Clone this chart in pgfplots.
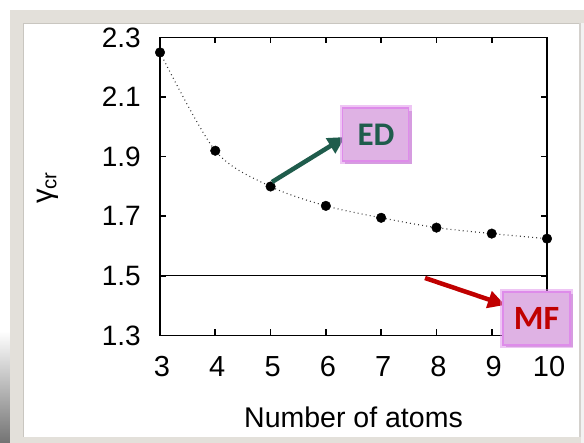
\documentclass[border=0pt]{standalone}
\usepackage{pgfplots}
\pgfplotsset{compat=1.18}
\usepackage{graphicx}
\usepackage{fontspec}
\setmainfont{Liberation Sans}
\newfontfamily\calibri{Carlito}
\usetikzlibrary{arrows.meta}
\definecolor{framegray}{HTML}{E3E0DA}
\definecolor{bevel}{HTML}{C9C6C0}
\definecolor{boxfill}{HTML}{DFB2E4}
\definecolor{boxglow}{HTML}{DE8CEA}
\definecolor{boxshadow}{HTML}{A86AB6}
\definecolor{edgreen}{HTML}{1F5C4C}
\definecolor{mfred}{HTML}{C00000}
\begin{document}
\begin{tikzpicture}[x=1bp,y=1bp]
% frame / background
\path[use as bounding box, fill=white] (0,0) rectangle (584,443);
\shade[top color=white, bottom color=black!55] (0,0) rectangle (12,112);
\fill[framegray] (10,0) rectangle (584,433);
\fill[white] (23,6) rectangle (580,420);
\fill[black!5] (581,0) rectangle (584,420);
\draw[bevel, line width=1.2] (23.5,6) -- (23.5,419.5) -- (580,419.5);
\draw[bevel!80, line width=1.2] (580,6) -- (580,420);
\begin{axis}[
  at={(160bp,107.5bp)}, anchor=south west,
  scale only axis, width=387bp, height=298bp,
  xmin=3, xmax=10, ymin=1.3, ymax=2.3,
  xtick={3,4,5,6,7,8,9,10},
  ytick={1.3,1.5,1.7,1.9,2.1,2.3},
  tick pos=both, tick align=inside,
  major tick length=6bp,
  axis line style={line width=1.8bp},
  every tick/.style={line width=1.6bp, black},
  /pgf/number format/assume math mode=true,
  yticklabel style={font=\fontsize{28bp}{30bp}\selectfont, inner sep=0pt, xshift=-19bp,
    /pgf/number format/.cd, fixed, fixed zerofill, precision=1},
  xticklabel style={font=\fontsize{29bp}{30bp}\selectfont, inner sep=0pt, yshift=-21bp, xshift=2bp},
  xlabel={Number of atoms},
  xlabel style={font=\fontsize{28.5bp}{30bp}\selectfont, inner sep=0pt,
    at={(axis description cs:0.5,0)}, anchor=base, yshift=-92.5bp},
  clip=false,
]
\addplot[black, line width=1.2bp] coordinates {(3,1.5) (10,1.5)};
\addplot[black!80, line width=1.1bp, dash pattern=on 0.9bp off 3.2bp, smooth, tension=0.5]
  coordinates {(3,2.25) (4,1.92) (5,1.80) (6,1.735) (7,1.695) (8,1.662) (9,1.642) (10,1.625)};
\addplot[only marks, mark=*, mark size=4.8bp, mark options={fill=black, draw=black}]
  coordinates {(3,2.25) (4,1.92) (5,1.80) (6,1.735) (7,1.695) (8,1.662) (9,1.642) (10,1.625)};
\end{axis}
% y label
\node[inner sep=0pt, font=\fontsize{29bp}{30bp}\selectfont] at (48,255) {\rotatebox{90}{γ\textsubscript{cr}}};
% annotations
\draw[edgreen, line width=4.5bp, -{Triangle[length=17bp,width=17bp]}] (272,261) -- (345,306);
\draw[mfred, line width=4.5bp, -{Triangle[length=17bp,width=17bp]}] (425,165) -- (505,138);
% ED box
\fill[boxshadow, opacity=0.55] (345,279) rectangle (412,332);
\draw[boxglow, opacity=0.5, line width=6bp] (342.5,282) rectangle (408.5,335);
\fill[boxfill] (342.5,282) rectangle (408.5,335);
\draw[boxglow, line width=1.4bp] (342.5,282) rectangle (408.5,335);
\node[text=edgreen, font=\calibri\bfseries\fontsize{33bp}{36bp}\selectfont, inner sep=0pt] at (376,308.5) {ED};
% MF box
\fill[boxshadow, opacity=0.55] (505.5,96) rectangle (572.5,149);
\draw[boxglow, opacity=0.5, line width=6bp] (503,98) rectangle (570,151);
\fill[boxfill] (503,98) rectangle (570,151);
\draw[boxglow, line width=1.4bp] (503,98) rectangle (570,151);
\node[text=mfred, font=\calibri\bfseries\fontsize{34bp}{36bp}\selectfont, inner sep=0pt] at (536.5,124.5) {MF};
\end{tikzpicture}
\end{document}
